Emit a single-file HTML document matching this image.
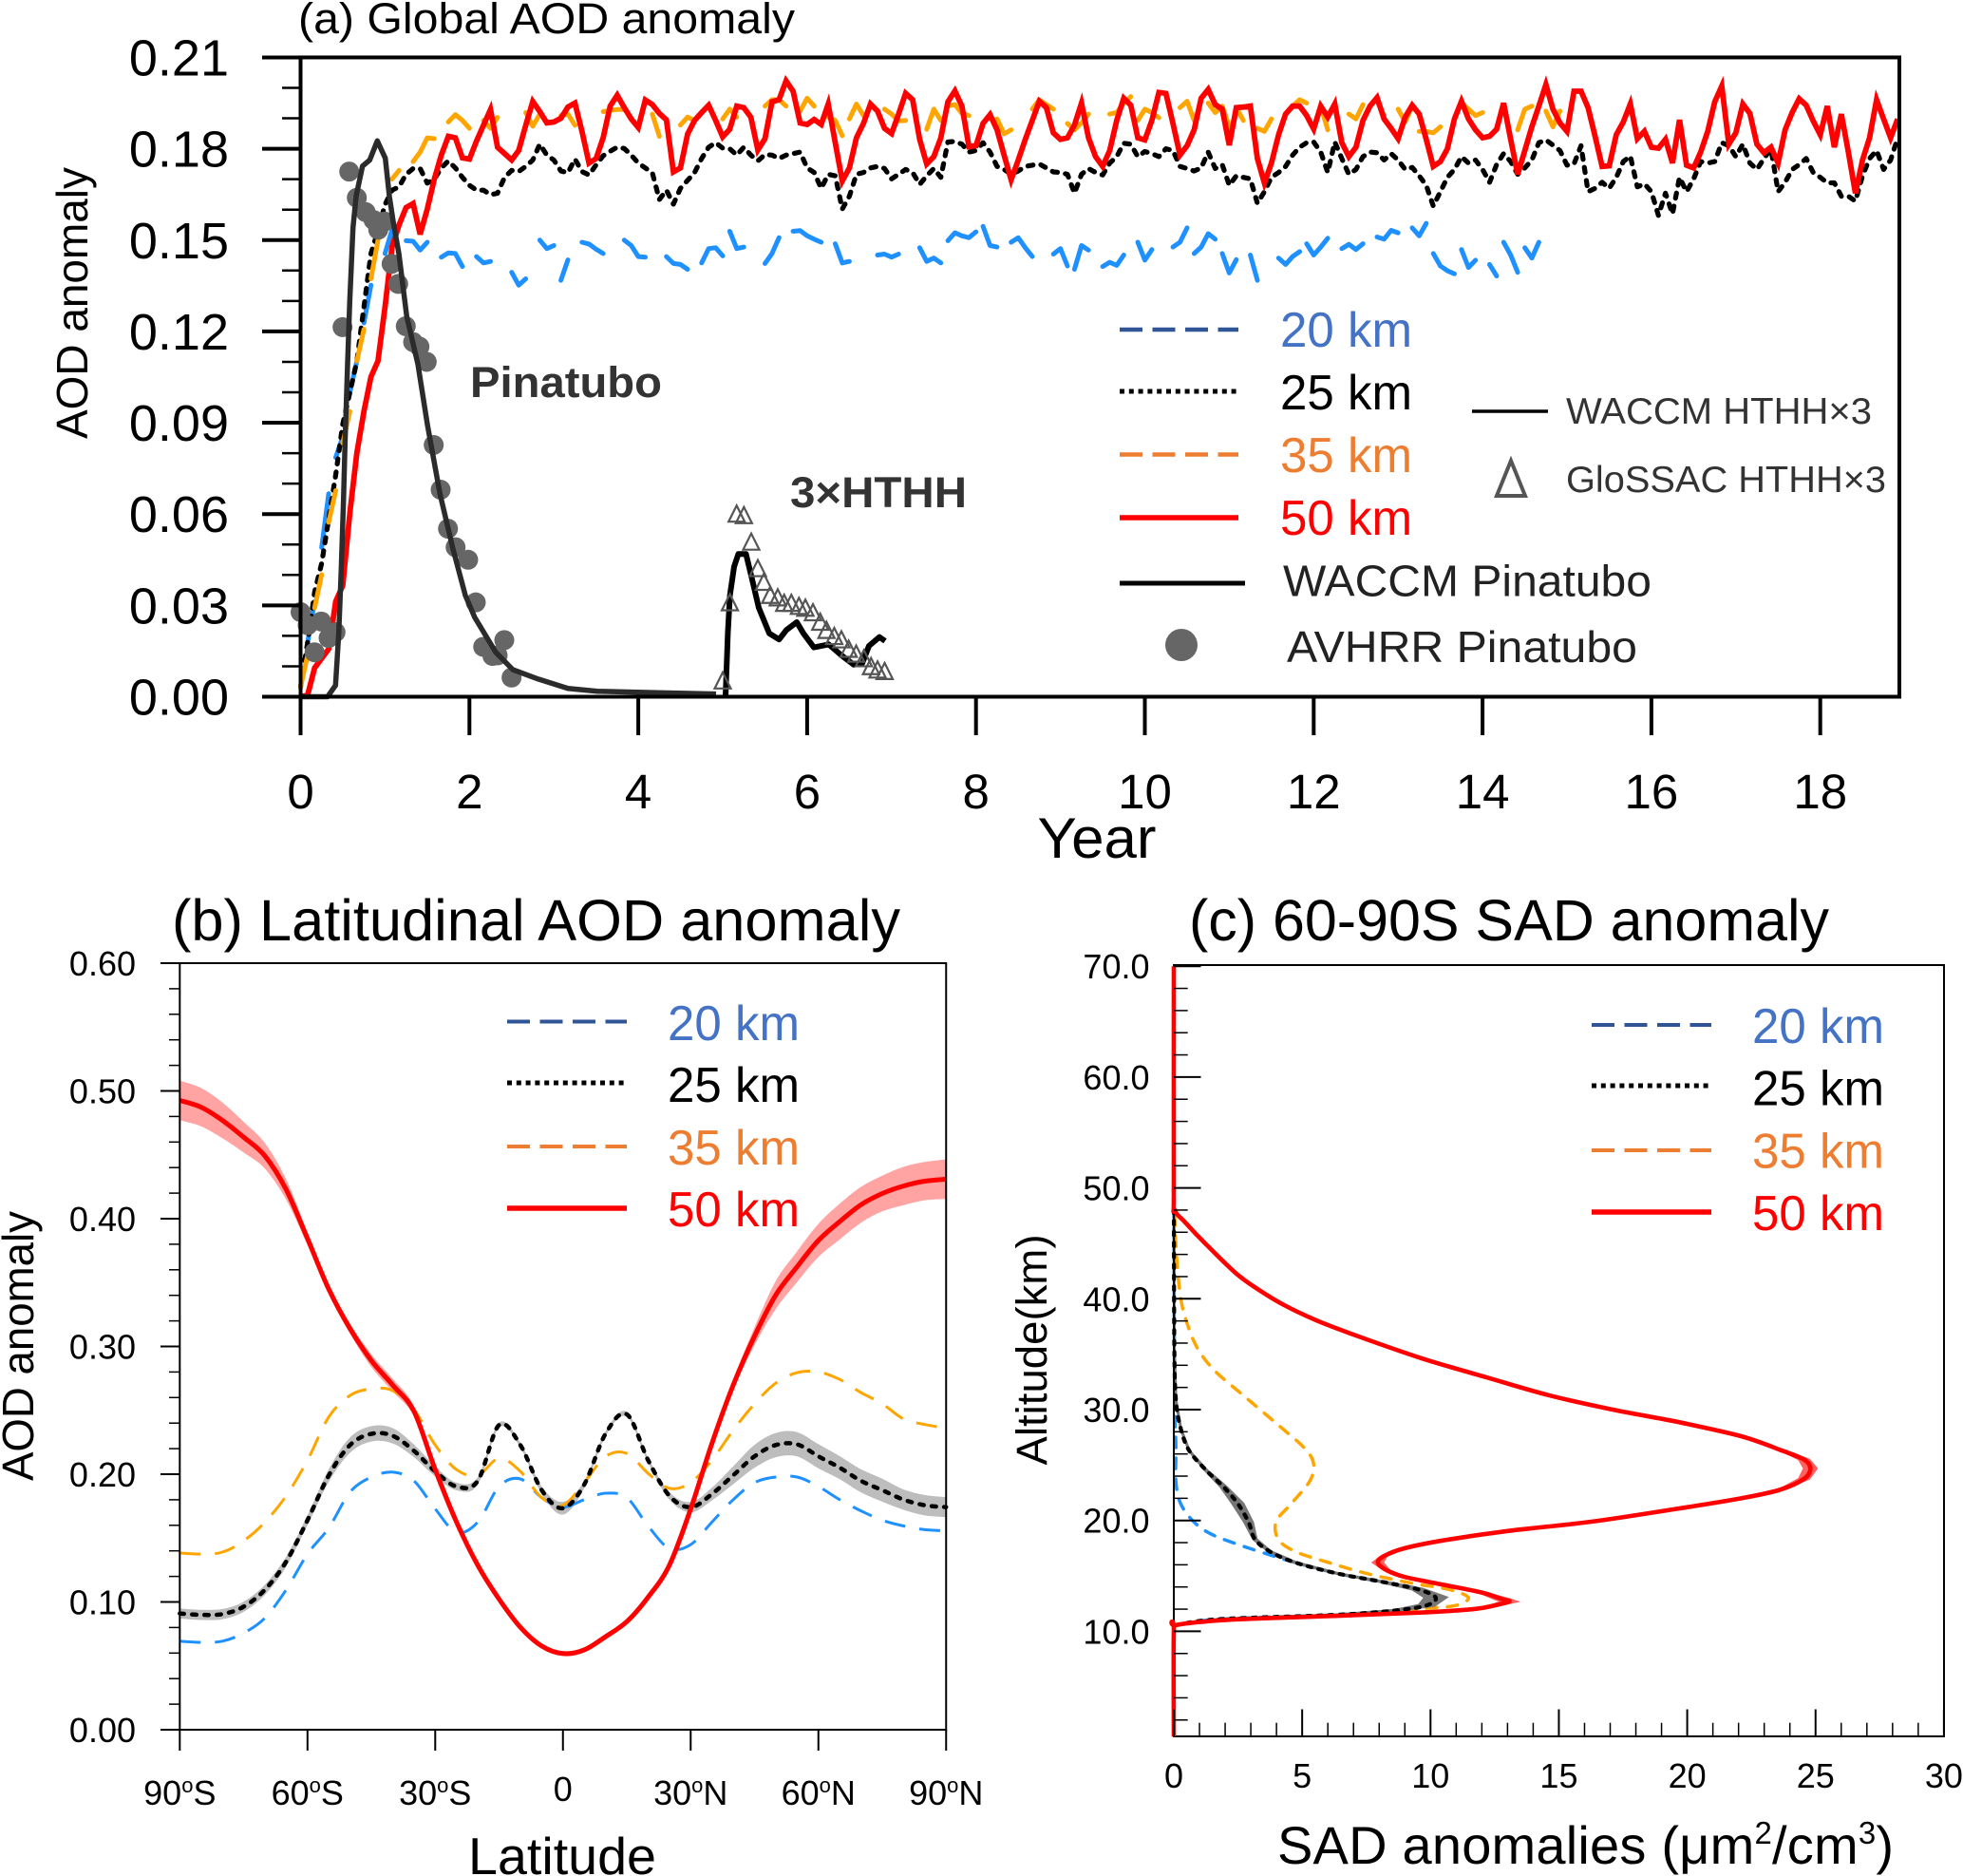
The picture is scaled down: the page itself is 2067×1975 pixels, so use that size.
<!DOCTYPE html>
<html lang="en">
<head>
<meta charset="utf-8">
<title>AOD and SAD anomaly</title>
<style>
html,body{margin:0;padding:0;background:#fff}
svg{display:block}
text{font-family:"Liberation Sans",sans-serif;fill:#000}
</style>
</head>
<body>
<svg id="fig" xmlns="http://www.w3.org/2000/svg" width="2067" height="1975" viewBox="0 0 2067 1975">
<rect x="0" y="0" width="2067" height="1975" fill="#fff"/>

<g id="panelA"></g>
<g id="panelB"></g>
<g id="panelC"></g>

<!-- panel a static text -->
<text x="314" y="35" font-size="45" textLength="523" lengthAdjust="spacingAndGlyphs">(a) Global AOD anomaly</text>
<text transform="translate(92,319) rotate(-90)" text-anchor="middle" font-size="46" textLength="286" lengthAdjust="spacingAndGlyphs">AOD anomaly</text>
<text x="1155" y="903" text-anchor="middle" font-size="60" textLength="125" lengthAdjust="spacingAndGlyphs">Year</text>
<text x="495" y="418" font-size="45" font-weight="bold" style="fill:#333" textLength="202" lengthAdjust="spacingAndGlyphs">Pinatubo</text>
<text x="832" y="534" font-size="45" font-weight="bold" style="fill:#333" textLength="186" lengthAdjust="spacingAndGlyphs">3×HTHH</text>

<g>
<line x1="1179" x2="1304" y1="347" y2="347" stroke="#2F5597" stroke-width="4.5" stroke-dasharray="24 10.5"/>
<text x="1348" y="365" font-size="52" style="fill:#4472C4" textLength="139" lengthAdjust="spacingAndGlyphs">20 km</text>
<line x1="1179" x2="1304" y1="412" y2="412" stroke="#000" stroke-width="5" stroke-dasharray="5 4.8"/>
<text x="1348" y="431" font-size="52" textLength="139" lengthAdjust="spacingAndGlyphs">25 km</text>
<line x1="1179" x2="1304" y1="478.5" y2="478.5" stroke="#ED7D31" stroke-width="4.5" stroke-dasharray="24 10.5"/>
<text x="1348" y="497" font-size="52" style="fill:#ED7D31" textLength="139" lengthAdjust="spacingAndGlyphs">35 km</text>
<line x1="1179" x2="1304" y1="545" y2="545" stroke="#f00" stroke-width="5.5"/>
<text x="1348" y="563" font-size="52" style="fill:#f00" textLength="139" lengthAdjust="spacingAndGlyphs">50 km</text>
<line x1="1179" x2="1311" y1="614" y2="614" stroke="#000" stroke-width="5"/>
<text x="1351" y="627.5" font-size="46" style="fill:#222" textLength="388" lengthAdjust="spacingAndGlyphs">WACCM Pinatubo</text>
<ellipse cx="1244" cy="679" rx="17" ry="17" fill="#666"/>
<text x="1355" y="697" font-size="46" style="fill:#222" textLength="369" lengthAdjust="spacingAndGlyphs">AVHRR Pinatubo</text>
<line x1="1550" x2="1630" y1="433" y2="433" stroke="#000" stroke-width="3.5"/>
<text x="1649" y="446" font-size="39" style="fill:#333" textLength="322" lengthAdjust="spacingAndGlyphs">WACCM HTHH×3</text>
<polygon points="1591,485 1606,522 1576,522" fill="none" stroke="#555" stroke-width="4"/>
<text x="1649" y="518" font-size="39" style="fill:#333" textLength="337" lengthAdjust="spacingAndGlyphs">GloSSAC HTHH×3</text>
</g>

<!-- panel b static text -->
<text x="181" y="990" font-size="61" textLength="767" lengthAdjust="spacingAndGlyphs">(b) Latitudinal AOD anomaly</text>
<text transform="translate(35,1417) rotate(-90)" text-anchor="middle" font-size="46" textLength="284" lengthAdjust="spacingAndGlyphs">AOD anomaly</text>
<text x="592" y="1973" text-anchor="middle" font-size="55" textLength="198" lengthAdjust="spacingAndGlyphs">Latitude</text>
<g>
<line x1="534" x2="660" y1="1075.5" y2="1075.5" stroke="#2F5597" stroke-width="4" stroke-dasharray="24 10.5"/>
<text x="703" y="1095" font-size="52" style="fill:#4472C4" textLength="139" lengthAdjust="spacingAndGlyphs">20 km</text>
<line x1="534" x2="660" y1="1140" y2="1140" stroke="#000" stroke-width="5" stroke-dasharray="5 4.8"/>
<text x="703" y="1160" font-size="52" textLength="139" lengthAdjust="spacingAndGlyphs">25 km</text>
<line x1="534" x2="660" y1="1207" y2="1207" stroke="#ED7D31" stroke-width="4" stroke-dasharray="24 10.5"/>
<text x="703" y="1226" font-size="52" style="fill:#ED7D31" textLength="139" lengthAdjust="spacingAndGlyphs">35 km</text>
<line x1="534" x2="660" y1="1272" y2="1272" stroke="#f00" stroke-width="5.5"/>
<text x="703" y="1291" font-size="52" style="fill:#f00" textLength="139" lengthAdjust="spacingAndGlyphs">50 km</text>
</g>

<!-- panel c static text -->
<text x="1252" y="990" font-size="61" textLength="674" lengthAdjust="spacingAndGlyphs">(c) 60-90S SAD anomaly</text>
<text transform="translate(1102,1421) rotate(-90)" text-anchor="middle" font-size="45" textLength="243" lengthAdjust="spacingAndGlyphs">Altitude(km)</text>
<text x="1345" y="1962" font-size="56" letter-spacing="0.2">SAD anomalies (μm<tspan font-size="33" dy="-21">2</tspan><tspan dy="21">/cm</tspan><tspan font-size="33" dy="-21">3</tspan><tspan dy="21">)</tspan></text>
<g>
<line x1="1676" x2="1802" y1="1079" y2="1079" stroke="#2F5597" stroke-width="4" stroke-dasharray="24 10.5"/>
<text x="1845" y="1098" font-size="52" style="fill:#4472C4" textLength="139" lengthAdjust="spacingAndGlyphs">20 km</text>
<line x1="1676" x2="1802" y1="1143" y2="1143" stroke="#000" stroke-width="5" stroke-dasharray="5 4.8"/>
<text x="1845" y="1163.5" font-size="52" textLength="139" lengthAdjust="spacingAndGlyphs">25 km</text>
<line x1="1676" x2="1802" y1="1211" y2="1211" stroke="#ED7D31" stroke-width="4" stroke-dasharray="24 10.5"/>
<text x="1845" y="1229.5" font-size="52" style="fill:#ED7D31" textLength="139" lengthAdjust="spacingAndGlyphs">35 km</text>
<line x1="1676" x2="1802" y1="1276" y2="1276" stroke="#f00" stroke-width="5.5"/>
<text x="1845" y="1295" font-size="52" style="fill:#f00" textLength="139" lengthAdjust="spacingAndGlyphs">50 km</text>
</g>
</svg>

<script>
// ---------- Panel (a): values in AOD x 1000; monthly series, null = gap between dashes ----------
const aodTickValues = [0, 30, 60, 90, 120, 150, 180, 210];
const aodTickLabels = ['0.00', '0.03', '0.06', '0.09', '0.12', '0.15', '0.18', '0.21'];
const aodMinorValues = [10, 20, 40, 50, 70, 80, 100, 110, 130, 140, 160, 170, 190, 200];
const yearTicks = [0, 2, 4, 6, 8, 10, 12, 14, 16, 18];

const red50km = [0,.5,9.5,12.6,15.7,31.3,36.5,60.4,80.2,93.7,105.1,110.3,128,147.7,155,160.7,162,151.9,160.2,170,177.9,184.1,
183.6,177,176.6,182.5,187.7,192.9,180.5,178.4,176.3,179.4,187.7,195.5,192.2,188.5,188.8,190,193.7,195,185.7,175.3,176.8,183.6,194,197.6,193.5,189.8,187,196,194.5,191.6,189.5,
172.4,173.7,184.8,189.3,191.9,194.3,189.3,183.9,186.4,194,193.5,190.4,179.6,183.3,195.4,196.1,202.3,198.9,188.5,188,189.6,188,194.7,182,169.4,173.7,183.6,188.3,194.7,192.4,186.7,185,191.4,198.2,196.1,183.1,175,177.4,183.6,195.4,199,194,180.7,181,188.3,191.2,186.2,177.9,169.8,176.3,183.1,189.3,195.6,193.5,185.2,183.1,183.6,187.8,195,
183.6,177.4,174.2,179.4,189.3,196.6,194.3,183.6,182.9,189.3,198.5,198.2,188.3,177.9,181,186.2,196.6,199.5,194.5,193,181.2,193.5,193.7,194,176.8,168.7,175.3,184.6,191.4,194,194,190.9,186.5,194,190.4,194.7,182,177.4,180.5,189.3,194,196.8,189.8,186.7,183.3,190.4,194.3,191.4,183.1,174.2,175.8,180,189.8,195.6,189.8,186.2,183.6,184.1,186.4,
195,183.1,171.6,179.4,187.2,194,201.1,193,188.5,185.7,198.9,198.9,193.5,184.1,174.2,174.4,184.6,188.8,194.7,183.3,185.7,180.5,180.2,183.1,175.3,189.5,174.6,173.7,178.9,185.7,195.4,200.6,181.5,185.2,194.7,191.6,181.5,178.7,180.5,175.3,186.2,191.9,196.4,194.3,189.1,184.6,194,180.5,191.4,178.9,165.4,176.3,183.6,196.1,189.8,183.6,189.8];

const black25km = [3.2,17.8,34.4,43.8,58.3,72.9,89.5,99.9,110.3,128,145.6,153,161.7,166.4,167.5,171.6,173.5,173.5,168.7,170,173.7,176,173.7,170.6,168,166.4,166.4,164.9,165.4,170.6,172.9,172.5,174.2,176.3,181.5,177.9,176.3,172.7,172.1,176.6,172.5,171.4,174.7,177.7,179.2,180.5,180.1,177.9,175.3,173.7,172.1,163.3,
166.4,161.8,167,169.6,172.2,176.8,180.5,182,180.2,180,177.9,180.5,177.9,176,178.1,177.9,176.8,177.9,178.4,178.9,173.7,172.2,167,171.6,171.1,160.2,164.4,171.6,172.2,173.7,174.2,173.5,170.1,171.6,173.2,172.2,168.3,171.1,173.5,170.6,182.2,182.4,181.5,178.9,179.4,182,178.9,174.2,173.2,171.6,172.7,174.2,174.6,175,173.7,172.4,172.2,171.6,
165.4,171.6,173.5,172.2,171.4,175.3,177.4,181.8,181.5,177.4,179.1,178.4,177.4,180,179.4,174.2,173.5,172.7,173.7,178.9,173.5,174.8,168,171.1,170.6,170.1,162.1,165.9,170.6,172.2,174.2,177.9,180.5,182,182.2,178.9,172.2,182.2,176.8,171.6,173.2,177.4,178.9,178.7,176.3,178.4,176.3,173.2,173.9,171.1,168,161.2,165.9,170.6,173.2,177.4,175.3,176.3,
173.2,169,174.8,178.4,175.8,171.6,173.7,176.3,182,182.9,181.2,179.4,174.6,175,181,165.9,167,169,167,170.6,175.8,177.6,167.5,168.5,165.9,158.1,165.4,158.6,170.6,165.9,170.1,175.8,175.3,175.8,182,181,177.4,181.5,175.3,173.2,176.8,180,165.9,169,173.2,174.8,176.8,172.2,170.6,168.8,168.8,164.4,164.4,162.8,171.1,176.8,179.4,173.2,176.3,183.6];

const orange35km = [3.2,13.6,29.2,40.1,57.3,67.7,83.3,93.7,110.3,120.7,137.3,150,null,170,172.9,null,175.8,178.9,183.6,183.3,null,188.8,191.2,189.3,186.7,null,189.3,186.7,190.3,null,null,null,191.9,187.4,191.4,null,null,190.9,191.4,187.7,null,null,null,192.2,192.6,192.9,192.9,null,null,null,191.4,184.1,null,null,
187.8,190.4,189.3,null,null,null,189.8,193,190.4,null,null,null,194,196.1,196.1,194,null,192.4,196.6,194,null,190.4,189.3,184.3,189.8,194.7,190.9,null,null,193,191.4,189.1,189.3,null,null,186.4,193,189.3,194,194.5,191.6,190.9,null,null,null,189.8,184.9,186.2,null,null,193,196.1,194.5,193,null,188.3,186.2,188.5,191.4,null,null,
191.4,191.9,195,197.1,189.3,193,191.9,190.2,null,null,193.5,195.6,189.3,null,195,191.9,194,187.2,193.5,189.3,null,186.7,185.7,189.8,null,null,194,196.1,195,null,194,186.2,null,null,191.4,189.8,194.5,null,195.6,190.9,null,193,188.8,194,185.7,185.7,185.2,187.2,null,null,195,193,190.9,191.9,null,null,null,null,186.2,193,194,null,192.4,187.2,192.4];
const orangeBreaks = [1,3,5,7,9,77,91,118,132,158];

const blue20km = [null,17.8,31.3,49,66.7,78.6,85.4,99.9,110.3,122.8,135.2,null,145.6,153.4,null,149.8,149.6,146.7,149.3,null,144.4,145.8,145.6,141.3,null,144.6,142.5,143,null,null,139.4,135.2,137.3,null,150,147.2,148.2,136.8,143.5,null,149.3,148.7,147,145.6,null,null,150,148.2,144.6,144.4,null,null,144.6,142.3,142,140.4,null,142.5,147.2,147.5,144.8,152.9,147.2,147.7,null,null,
142.3,145.6,150.8,null,152.9,153.1,151.4,150.3,149.3,null,148.8,142.5,143,null,null,null,145.1,145.4,144.4,145.4,null,null,147.5,143,144.1,142.5,149.8,152.4,151.4,150.8,152.7,154.5,148.2,147.7,null,149.3,150.8,147.5,144.6,null,null,145.4,147.2,141.5,140.4,148.2,146.7,null,
141.3,142.7,141.7,145.1,null,149.3,143.4,146.9,null,null,147.7,149.3,154,145.6,147.7,152.1,150.3,145.6,139.2,143.6,null,145.1,136.8,null,null,144.1,142,144.6,146.2,148.8,145.1,147.7,150.6,null,147.2,148.6,146.9,148.8,null,151,150.3,153.2,152.4,null,154,151.4,155.5,145.6,141.5,139.9,138.9,146.9,141,143.4,null,142,138.2,149.3,145.1,139.4,147.5,144.1,149.3];
const blueBreaks = [2,4,6,8,36,60,91,96,109,126,130,142,160,164,170,173];

const avhrrYears = [0,.084,.245,.165,.332,.414,.497,.576,.666,.771,.864,.92,.995,1.078,1.156,1.246,1.333,1.408,1.494,1.577,1.659,1.746,1.836,1.985,2.075,2.163,2.273,2.334,2.413,2.499];
const avhrrValues = [27.8,23.5,24.7,14.6,19.3,21.2,121.4,172.5,163.9,159.2,156.6,153.4,156.1,142.2,135.6,121.7,116.5,115,110,82.7,68,55.2,49.1,45,31,16.4,13.4,13.6,18.6,6.3];

const pinatuboYears = [0,.32,.414,.452,.481,.508,.526,.557,.583,.621,.658,.733,.819,.909,1.003,1.052,1.097,1.164,1.258,1.389,1.502,1.651,1.802,1.952,2.062,2.312,2.514,2.816,3.167,3.515,4.224,4.921];
const pinatuboValues = [0,0,3.7,20.8,41.7,64.5,83.2,109.3,130,154,164.4,174.3,176.3,182.6,176.9,164.4,156.1,145.6,124.9,109.3,89.5,66.6,48.9,33.3,26.1,14.6,8.9,5.8,2.7,1.8,1.3,.9];

const hthhYears = [5.034,5.061,5.085,5.135,5.186,5.276,5.349,5.427,5.551,5.668,5.754,5.877,5.956,6.08,6.255,6.406,6.552,6.653,6.732,6.856,6.924];
const hthhValues = [.2,20.8,33.3,42.7,46.9,46.9,38.5,29.2,20.8,18.8,21.9,24.5,20.8,16.2,17.2,13.6,10.5,11,16.7,19.6,18.3];

const glossacYears = [5,5.085,5.165,5.251,5.338,5.416,5.487,5.562,5.652,5.728,5.813,5.903,5.979,6.069,6.155,6.229,6.321,6.406,6.492,6.581,6.672,6.757,6.834,6.918];
const glossacValues = [5.2,30.9,60,59.5,50.8,42.1,37.6,33.3,32.5,30.7,30.7,29.7,29.1,27.6,24.5,21.8,19.8,18.7,15.6,14,12.5,9.9,8.8,8.3];

// ---------- Panel (b) ----------
const latitudes = [-90,-85,-80,-75,-70,-65,-60,-55,-50,-45,-40,-35,-30,-25,-20,-15,-10,-5,0,5,10,15,20,25,30,35,40,45,50,55,60,65,70,75,80,85,90];
const latTickValues = [-90,-60,-30,0,30,60,90];
const latTickLabels = [['90','S'],['60','S'],['30','S'],['0',''],['30','N'],['60','N'],['90','N']];
const latAodTicks = [0,.1,.2,.3,.4,.5,.6];
const latAodLabels = ['0.00','0.10','0.20','0.30','0.40','0.50','0.60'];
const latRed = [.4926,.4873,.477,.4638,.4491,.4227,.3844,.3448,.3139,.2889,.2698,.2492,.2036,.1625,.1287,.1022,.0802,.0655,.0596,.0625,.0728,.0846,.1037,.1287,.1728,.2242,.2698,.308,.3403,.3624,.383,.3977,.4109,.4197,.4256,.4294,.4309];
const latRedSpread = [.0155,.015,.014,.012,.01,.008,.005,.004,.004,.005,.005,.004,.002,.002,.002,.002,.002,.002,.002,.002,.002,.002,.002,.002,.002,.003,.004,.007,.011,.012,.013,.014,.014,.014,.015,.015,.0155];
const latBlack = [.091,.0899,.0905,.0963,.1096,.1316,.164,.199,.2228,.2316,.2301,.2183,.2022,.1904,.1948,.2385,.2228,.1875,.1734,.1919,.2316,.2469,.211,.1831,.1742,.1845,.1992,.214,.2228,.2234,.214,.2051,.1948,.1875,.1801,.1757,.1742];
const latBlackSpread = [.004,.004,.004,.004,.004,.004,.004,.005,.006,.006,.006,.005,.004,.003,.003,.002,.002,.003,.005,.003,.002,.002,.002,.003,.004,.005,.007,.009,.0095,.0095,.0095,.009,.009,.009,.008,.008,.0078];
const latOrange = [.1384,.1375,.139,.1478,.1625,.1831,.211,.2448,.2616,.2668,.2654,.2507,.2228,.2036,.1992,.2125,.2022,.1816,.1757,.1934,.2139,.2163,.2007,.1889,.1934,.211,.2345,.2551,.2713,.2795,.2801,.2742,.2639,.2551,.2433,.2389,.236];
const latBlue = [.0693,.0684,.0693,.0757,.0875,.1096,.1375,.158,.186,.1978,.2016,.1948,.1728,.1545,.1625,.1904,.1963,.1816,.1742,.1801,.1851,.1816,.1595,.1419,.1449,.1625,.1801,.1934,.1978,.1978,.1904,.1801,.1713,.164,.1595,.1566,.1557];

// ---------- Panel (c) ----------
const sadTicks = [0,5,10,15,20,25,30];
const altTicks = [10,20,30,40,50,60,70];
const altMinor = [2,4,6,8,12,14,16,18,22,24,26,28,32,34,36,38,42,44,46,48,52,54,56,58,62,64,66,68];
const sadMinor = [1,2,3,4,6,7,8,9,11,12,13,14,16,17,18,19,21,22,23,24,26,27,28,29];
const altRed = [.5,10,10.57,11.05,11.4,11.7,12,12.34,12.68,12.9,13.5,14.2,14.9,15.5,16.2,16.8,17.5,18.2,19.05,19.9,21.05,22,22.76,23.75,24.7,25.5,26.3,27.6,28.9,30,31.3,32.9,34.6,36.6,38.05,39.5,40.9,42.3,44.9,46.9,48.04,50,70];
const sadRed = [0,0,.1,2.25,6.4,9.69,11.67,12.5,13.07,12.8,12,10.5,9,8.3,7.95,8.2,9,10.5,13,16.3,19.6,22.1,23.6,24.55,24.8,24.55,23.7,22.1,19.6,17.1,14.6,12.2,9.69,7.2,5.56,4.24,3.25,2.42,1.26,.44,.03,0,0];
const sadRedSpread = [0,0,0,0,0,0,.05,.15,.3,.3,.1,.05,.05,.1,.2,.1,.03,0,0,0,0,0,.05,.2,.25,.2,.05,0,0,0,0,0,0,0,0,0,0,0,0,0,0,0,0];
const altOrange = [10.57,11.05,11.4,11.7,12.05,12.34,13.06,13.8,14.3,15.2,16.3,17.2,18.3,19.9,21.5,23.6,25.2,26.6,28.6,31.2,33.5,35.5,37.76,40.05,44.05,49.5];
const sadOrange = [.1,2.25,6.4,8,9.69,11,11.47,10.68,9.36,7.54,5.9,4.73,4.07,3.99,4.57,5.31,5.44,5.06,4.07,2.75,1.6,.93,.52,.27,.1,0];
const altBlack = [10.57,11.1,11.5,11.9,12.34,13.06,13.8,14.5,15.2,16.2,17.2,18.3,19.8,21.5,23.05,24.5,26.3,28.3,30.9,36,50];
const sadBlack = [.1,1.76,6.4,8.7,9.85,10.2,9.5,8.04,6.4,4.73,3.74,3.16,2.92,2.5,1.93,1.27,.6,.27,.08,.02,0];
const sadBlackSpread = [0,0,0,.1,.3,.4,.2,.05,.03,.03,.03,.05,.15,.2,.1,.03,0,0,0,0,0];
const altBlue = [10.57,11.1,11.5,11.9,12.34,13.06,13.8,14.5,15.2,16.2,16.9,17.9,18.8,19.9,21.5,23.5,26.6,32,50];
const sadBlue = [.1,1.76,6.4,8.7,9.85,10.35,9.6,8.04,6.4,4.73,3.74,2.42,1.43,.77,.27,.08,.08,.03,0];

// ---------- axis functions ----------
const xA = yr => 316.5 + yr * 88.9;
const yA = v => 733.5 - v * 3.205;
const xB = lat => 189.3 + (lat + 90) * 4.483;
const yB = v => 1821 - v * 1345;
const xC = s => 1236 + s * 27.03;
const yC = alt => 1717.4 - (alt - 10) * 11.67;

const SVG_NS = 'http://www.w3.org/2000/svg';
function mk(tag, attrs, parent) {
  const el = document.createElementNS(SVG_NS, tag);
  for (const k in attrs) el.setAttribute(k, attrs[k]);
  parent.appendChild(el);
  return el;
}
function monthlyPath(series, breaks) {
  let d = '', pen = false;
  series.forEach((v, m) => {
    if (v === null) { pen = false; return; }
    const nextNull = series[m + 1] === null || series[m + 1] === undefined;
    const prevNull = !pen;
    const px = xA(m / 12).toFixed(1), py = yA(v).toFixed(1);
    d += (pen ? 'L' : 'M') + px + ' ' + py;
    if (prevNull && nextNull) d += 'h.1';
    pen = !(breaks && breaks.includes(m));
  });
  return d;
}
function polyPath(xs, ys, fx, fy) {
  return xs.map((x, i) => (i ? 'L' : 'M') + fx(x).toFixed(1) + ' ' + fy(ys[i]).toFixed(1)).join('');
}
function smoothPath(pts) {
  let d = 'M' + pts[0][0].toFixed(1) + ' ' + pts[0][1].toFixed(1);
  for (let i = 0; i < pts.length - 1; i++) {
    const p0 = pts[i - 1] || pts[i], p1 = pts[i], p2 = pts[i + 1], p3 = pts[i + 2] || p2;
    const c1x = p1[0] + (p2[0] - p0[0]) / 6, c1y = p1[1] + (p2[1] - p0[1]) / 6;
    const c2x = p2[0] - (p3[0] - p1[0]) / 6, c2y = p2[1] - (p3[1] - p1[1]) / 6;
    d += 'C' + [c1x, c1y, c2x, c2y, p2[0], p2[1]].map(n => n.toFixed(1)).join(' ');
  }
  return d;
}

// ---------- draw panel (a) ----------
const gA = document.getElementById('panelA');

const blueLineA = mk('path', {d: monthlyPath(blue20km, blueBreaks), fill: 'none', stroke: '#1E90FF', 'stroke-width': 5, 'stroke-linecap': 'round', 'stroke-linejoin': 'round'}, gA);



const blackLineA = mk('path', {d: monthlyPath(black25km), fill: 'none', stroke: '#000', 'stroke-width': 5.2, 'stroke-dasharray': '5.5 8.5', 'stroke-linecap': 'round', 'stroke-linejoin': 'round'}, gA);



const orangeLineA = mk('path', {d: monthlyPath(orange35km, orangeBreaks), fill: 'none', stroke: '#FFA500', 'stroke-width': 5, 'stroke-linecap': 'round', 'stroke-linejoin': 'round'}, gA);



const redLineA = mk('path', {d: monthlyPath(red50km), fill: 'none', stroke: '#f00', 'stroke-width': 5.8, 'stroke-linejoin': 'miter'}, gA);



avhrrYears.forEach((yr, i) => {
  const dot = mk('circle', {cx: xA(yr), cy: yA(avhrrValues[i]), r: 10.5, fill: '#666'}, gA);
  
  
});

const pinLine = mk('path', {d: polyPath(pinatuboYears, pinatuboValues, xA, yA), fill: 'none', stroke: '#2b2b2b', 'stroke-width': 5.5, 'stroke-linejoin': 'round'}, gA);



const hthhLine = mk('path', {d: polyPath(hthhYears, hthhValues, xA, yA), fill: 'none', stroke: '#000', 'stroke-width': 6, 'stroke-linejoin': 'round'}, gA);



glossacYears.forEach((yr, i) => {
  const cx = xA(yr), cy = yA(glossacValues[i]);
  const tri = mk('polygon', {points: `${cx},${cy - 9} ${cx + 8.5},${cy + 8} ${cx - 8.5},${cy + 8}`, fill: 'none', stroke: '#555', 'stroke-width': 2.2}, gA);
  
  
});

const frameA = mk('rect', {x: xA(0), y: yA(210), width: 2000 - xA(0), height: yA(0) - yA(210), fill: 'none', stroke: '#000', 'stroke-width': 4}, gA);



aodTickValues.forEach((v, i) => {
  const t = mk('line', {x1: 276, x2: xA(0), y1: yA(v), y2: yA(v), stroke: '#000', 'stroke-width': 4}, gA);
  
  
  const lab = mk('text', {x: 241, y: yA(v) + 19, 'text-anchor': 'end', 'font-size': 54}, gA);
  lab.textContent = aodTickLabels[i];
  
  
});
aodMinorValues.forEach(v => {
  const t = mk('line', {x1: 297, x2: xA(0), y1: yA(v), y2: yA(v), stroke: '#000', 'stroke-width': 2.5}, gA);
  
  
});
yearTicks.forEach(yr => {
  const t = mk('line', {x1: xA(yr), x2: xA(yr), y1: 733.5, y2: 774, stroke: '#000', 'stroke-width': 4}, gA);
  
  
  const lab = mk('text', {x: xA(yr), y: 851, 'text-anchor': 'middle', 'font-size': 51}, gA);
  lab.textContent = String(yr);
  
  
});

// ---------- draw panel (b) ----------
const gB = document.getElementById('panelB');
function bandPathB(center, spread) {
  const up = latitudes.map((la, i) => [xB(la), yB(center[i] + spread[i])]);
  const lo = latitudes.map((la, i) => [xB(la), yB(center[i] - spread[i])]).reverse();
  return smoothPath(up) + smoothPath(lo).replace('M', 'L') + 'Z';
}
const lineB = s => smoothPath(latitudes.map((la, i) => [xB(la), yB(s[i])]));

const bandRedB = mk('path', {d: bandPathB(latRed, latRedSpread), fill: '#FFA3A3'}, gB);


const bandBlackB = mk('path', {d: bandPathB(latBlack, latBlackSpread), fill: '#BDBDBD'}, gB);



const blueB = mk('path', {d: lineB(latBlue), fill: 'none', stroke: '#1E90FF', 'stroke-width': 3, 'stroke-dasharray': '22 15'}, gB);


const orangeB = mk('path', {d: lineB(latOrange), fill: 'none', stroke: '#FFA500', 'stroke-width': 3, 'stroke-dasharray': '22 15'}, gB);


const blackB = mk('path', {d: lineB(latBlack), fill: 'none', stroke: '#000', 'stroke-width': 4.5, 'stroke-dasharray': '4.5 8.5', 'stroke-linecap': 'round'}, gB);


const redB = mk('path', {d: lineB(latRed), fill: 'none', stroke: '#f00', 'stroke-width': 5}, gB);



const frameB = mk('rect', {x: xB(-90), y: yB(.6), width: xB(90) - xB(-90), height: yB(0) - yB(.6), fill: 'none', stroke: '#000', 'stroke-width': 2}, gB);



latAodTicks.forEach((v, i) => {
  const t = mk('line', {x1: 169, x2: xB(-90), y1: yB(v), y2: yB(v), stroke: '#000', 'stroke-width': 2}, gB);
  
  
  const lab = mk('text', {x: 143, y: yB(v) + 13, 'text-anchor': 'end', 'font-size': 36}, gB);
  lab.textContent = latAodLabels[i];
  
  
  if (i < latAodTicks.length - 1) {
    [.02, .04, .06, .08].forEach(off => {
      const m = mk('line', {x1: 178, x2: xB(-90), y1: yB(v + off), y2: yB(v + off), stroke: '#000', 'stroke-width': 1.5}, gB);
      
      
    });
  }
});
latTickValues.forEach((la, i) => {
  const t = mk('line', {x1: xB(la), x2: xB(la), y1: 1821, y2: 1843, stroke: '#000', 'stroke-width': 2}, gB);
  
  
  const lab = mk('text', {x: xB(la), y: 1900, 'text-anchor': 'middle', 'font-size': 36}, gB);
  const parts = latTickLabels[i];
  if (parts[1]) {
    const a = mk('tspan', {}, lab); a.textContent = parts[0];
    const b = mk('tspan', {'font-size': 22, dy: -13}, lab); b.textContent = 'o';
    const c = mk('tspan', {dy: 13}, lab); c.textContent = parts[1];
  } else {
    lab.textContent = parts[0];
    lab.setAttribute('y', 1896);
  }
  
  
});

// ---------- draw panel (c) ----------
const gC = document.getElementById('panelC');
function bandC(alts, s, spread) {
  const a = alts.map((al, i) => xC(s[i] + spread[i]).toFixed(1) + ',' + yC(al).toFixed(1));
  const b = alts.map((al, i) => xC(Math.max(0, s[i] - spread[i])).toFixed(1) + ',' + yC(al).toFixed(1)).reverse();
  return a.concat(b).join(' ');
}
const lineC = (alts, s) => smoothPath(alts.map((al, i) => [xC(s[i]), yC(al)]));

const blueC = mk('path', {d: lineC(altBlue, sadBlue), fill: 'none', stroke: '#1E90FF', 'stroke-width': 3.5, 'stroke-dasharray': '11 11', 'stroke-linecap': 'round'}, gC);


const orangeC = mk('path', {d: lineC(altOrange, sadOrange), fill: 'none', stroke: '#FFA500', 'stroke-width': 3.5, 'stroke-dasharray': '11 11', 'stroke-linecap': 'round'}, gC);


const bandBlackC = mk('polygon', {points: bandC(altBlack, sadBlack, sadBlackSpread), fill: '#777', stroke: '#777', 'stroke-width': 3}, gC);


const blackC = mk('path', {d: lineC(altBlack, sadBlack), fill: 'none', stroke: '#000', 'stroke-width': 4.2, 'stroke-dasharray': '4 7.5', 'stroke-linecap': 'round'}, gC);



const frameC = mk('rect', {x: 1236, y: 1016, width: 811, height: 812, fill: 'none', stroke: '#000', 'stroke-width': 2}, gC);



const bandRedC = mk('polygon', {points: bandC(altRed, sadRed, sadRedSpread), fill: '#FF6060', stroke: '#FF6060', 'stroke-width': 2}, gC);


const redC = mk('path', {d: lineC(altRed, sadRed), fill: 'none', stroke: '#f00', 'stroke-width': 4.6}, gC);



sadTicks.forEach(s => {
  const t = mk('line', {x1: xC(s), x2: xC(s), y1: 1828, y2: 1799.5, stroke: '#000', 'stroke-width': 2}, gC);
  
  
  const lab = mk('text', {x: xC(s), y: 1882, 'text-anchor': 'middle', 'font-size': 36}, gC);
  lab.textContent = String(s);
  
  
});
sadMinor.forEach(s => {
  const t = mk('line', {x1: xC(s), x2: xC(s), y1: 1828, y2: 1813.7, stroke: '#000', 'stroke-width': 1.5}, gC);
  
  
});
altTicks.forEach(al => {
  const t = mk('line', {x1: 1236, x2: 1264.5, y1: yC(al), y2: yC(al), stroke: '#000', 'stroke-width': 2}, gC);
  
  
  const lab = mk('text', {x: 1210.5, y: yC(al) + 13, 'text-anchor': 'end', 'font-size': 36}, gC);
  lab.textContent = al.toFixed(1);
  
  
});
altMinor.forEach(al => {
  const t = mk('line', {x1: 1236, x2: 1250.7, y1: yC(al), y2: yC(al), stroke: '#000', 'stroke-width': 1.5}, gC);
  
  
});
</script>
</body>
</html>
